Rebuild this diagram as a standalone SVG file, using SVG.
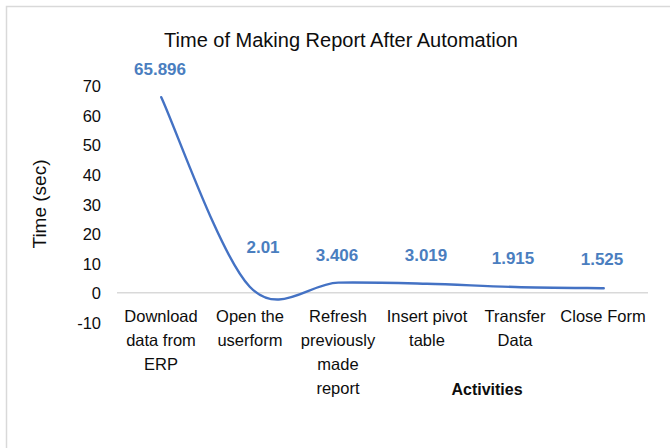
<svg xmlns="http://www.w3.org/2000/svg" width="670" height="448" viewBox="0 0 670 448">
<style>
  text { font-family: "Liberation Sans", Arial, sans-serif; fill: #0d0d0d; }
  .title { font-size: 20px; text-anchor: middle; }
  .ytick { font-size: 16.5px; text-anchor: end; }
  .cat { font-size: 16.5px; text-anchor: middle; }
  .dl { font-size: 17px; font-weight: bold; text-anchor: middle; fill: #4A7EBF; }
  .axtitle { font-size: 16px; font-weight: bold; text-anchor: middle; }
  .ytitle { font-size: 19px; text-anchor: middle; }
</style>
<rect x="0" y="0" width="670" height="448" fill="#ffffff"/>
<rect x="6.5" y="6.5" width="700" height="500" fill="none" stroke="#D9D9D9" stroke-width="1.5"/>
<g id="title"><text class="title" x="341" y="47">Time of Making Report After Automation</text></g>
<g id="y-axis">
  <text class="ytick" x="101" y="92">70</text>
  <text class="ytick" x="101" y="121.5">60</text>
  <text class="ytick" x="101" y="151">50</text>
  <text class="ytick" x="101" y="181">40</text>
  <text class="ytick" x="101" y="210.5">30</text>
  <text class="ytick" x="101" y="240">20</text>
  <text class="ytick" x="101" y="270">10</text>
  <text class="ytick" x="101" y="299">0</text>
  <text class="ytick" x="101" y="329">-10</text>
  <text class="ytitle" transform="translate(46 204) rotate(-90)">Time (sec)</text>
</g>
<g id="x-axis">
  <line x1="117" y1="292.7" x2="648" y2="292.7" stroke="#D9D9D9" stroke-width="1.5"/>
  <text class="cat" x="161" y="322">Download</text>
  <text class="cat" x="161" y="346">data from</text>
  <text class="cat" x="161" y="370">ERP</text>
  <text class="cat" x="250" y="322">Open the</text>
  <text class="cat" x="250" y="346">userform</text>
  <text class="cat" x="338" y="322">Refresh</text>
  <text class="cat" x="338" y="346">previously</text>
  <text class="cat" x="338" y="370">made</text>
  <text class="cat" x="338" y="393.5">report</text>
  <text class="cat" x="427" y="322">Insert pivot</text>
  <text class="cat" x="427" y="346">table</text>
  <text class="cat" x="515" y="322">Transfer</text>
  <text class="cat" x="515" y="346">Data</text>
  <text class="cat" x="603" y="322">Close Form</text>
  <text class="axtitle" x="487" y="395">Activities</text>
</g>
<g id="series">
  <path d="M161.25,97.18 C176,128.77 220.25,255.84 249.75,286.74 C279.25,317.64 308.75,283.09 338.25,282.59 C367.75,282.09 397.25,283 426.75,283.74 C456.25,284.48 485.75,286.28 515.25,287.02 C544.75,287.76 589,287.99 603.75,288.18" fill="none" stroke="#4472C4" stroke-width="2.4" stroke-linecap="round"/>
</g>
<g id="data-labels">
  <text class="dl" x="160" y="75">65.896</text>
  <text class="dl" x="263" y="253">2.01</text>
  <text class="dl" x="337" y="261">3.406</text>
  <text class="dl" x="426" y="261">3.019</text>
  <text class="dl" x="513" y="264">1.915</text>
  <text class="dl" x="602" y="265">1.525</text>
</g>
</svg>
